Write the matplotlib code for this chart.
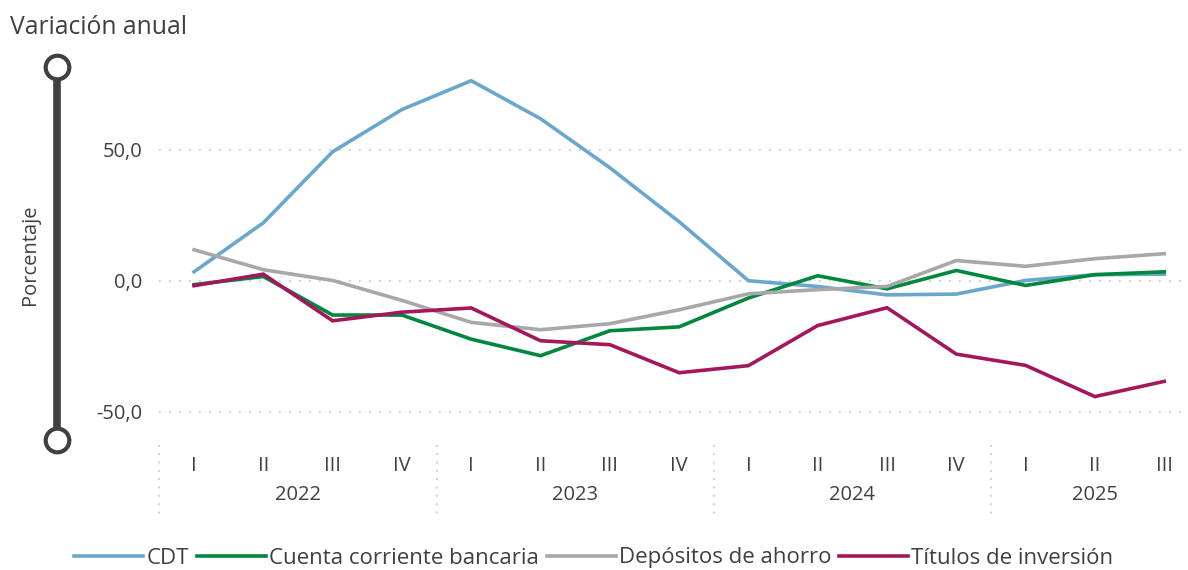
import matplotlib
matplotlib.use("Agg")
import matplotlib.pyplot as plt
from matplotlib.lines import Line2D
import matplotlib.transforms as mtransforms

plt.rcParams['font.family'] = ['Open Sans', 'DejaVu Sans']

# data (annual % change)
quarters = ['I', 'II', 'III', 'IV', 'I', 'II', 'III', 'IV', 'I', 'II', 'III', 'IV', 'I', 'II', 'III']
years = ['2022', '2023', '2024', '2025']
year_len = [4, 4, 4, 3]

cdt = [3.4, 22.1, 49.2, 65.3, 76.3, 61.8, 43.1, 22.5, 0.0, -2.2, -5.4, -5.1, 0.1, 2.3, 2.5]
cuenta = [-1.5, 1.6, -13.1, -13.1, -22.3, -28.6, -19.1, -17.6, -6.6, 1.9, -3.1, 3.9, -1.8, 2.3, 3.4]
ahorro = [11.8, 4.2, 0.1, -7.5, -15.9, -18.7, -16.4, -11.1, -5.0, -3.4, -2.2, 7.7, 5.5, 8.4, 10.3]
titulos = [-1.9, 2.5, -15.3, -12.0, -10.4, -22.9, -24.4, -35.1, -32.4, -17.1, -10.3, -28.0, -32.3, -44.2, -38.4]

series = [
    ('CDT', cdt, '#6AA7CD'),
    ('Cuenta corriente bancaria', cuenta, '#00873E'),
    ('Depósitos de ahorro', ahorro, '#A8A8A8'),
    ('Títulos de inversión', titulos, '#A3175D'),
]

W, H = 1188, 570
fig = plt.figure(figsize=(W / 100, H / 100), dpi=100)
txt = '#404040'

# axes box in pixels
left_px, right_px = 159.4, 1188
top_px, bot_px = 71, 438
ax = fig.add_axes([left_px / W, 1 - bot_px / H, (right_px - left_px) / W, (bot_px - top_px) / H])

x = list(range(len(quarters)))
for name, vals, col in series:
    ax.plot(x, vals, color=col, lw=2.6, label=name, solid_joinstyle='miter')

ax.set_xlim(-0.5, (right_px - 194) / 69.3)
ax.set_ylim(-60, 80)
ax.set_yticks([-50, 0, 50])
ax.set_yticklabels(['-50,0', '0,0', '50,0'])
ax.set_xticks(x)
ax.set_xticklabels(quarters)
ax.tick_params(axis='both', length=0, labelsize=14.5, colors=txt)
ax.tick_params(axis='y', pad=12)
ax.tick_params(axis='x', pad=13)
for s in ax.spines.values():
    s.set_visible(False)
ax.grid(axis='y', color='#c4c4c4', ls=(0, (1, 5)), lw=1.2)
ax.set_axisbelow(True)

# year groups under the quarter labels
trans = mtransforms.blended_transform_factory(ax.transData, fig.transFigure)
start = 0
bounds = [-0.5]
for yr, n in zip(years, year_len):
    ax.text(start + (n - 1) / 2, 1 - 495 / H, yr, transform=trans, ha='center', va='center',
            fontsize=14.5, color=txt)
    start += n
    bounds.append(start - 0.5)
for b in bounds[:-1]:
    ax.add_line(Line2D([b, b], [1 - 445 / H, 1 - 518 / H], transform=trans, color='#c4c4c4',
                       ls=(0, (1, 4)), lw=1.2, clip_on=False))

# title and y label
fig.text(10 / W, 1 - 27 / H, 'Variación anual', fontsize=17.8, color=txt, va='center', ha='left')
fig.text(30 / W, 1 - 255 / H, 'Porcentaje', fontsize=14.5, color=txt, rotation=90, va='center', ha='center')

# slider decoration on the left
sx = 57 / W
fig.add_artist(Line2D([sx, sx], [1 - 67 / H, 1 - 440 / H], color=txt, lw=5.5))
for py in (67, 440):
    fig.add_artist(Line2D([sx], [1 - py / H], marker='o', markersize=17, mfc='white', mec=txt, mew=3))

fig.legend(loc='center', bbox_to_anchor=(0.5, 1 - 558 / H), ncol=4, frameon=False, fontsize=16,
           handlelength=3.1, handletextpad=0.15, columnspacing=0.35, labelcolor=txt)

fig.savefig('out.png', dpi=100)
